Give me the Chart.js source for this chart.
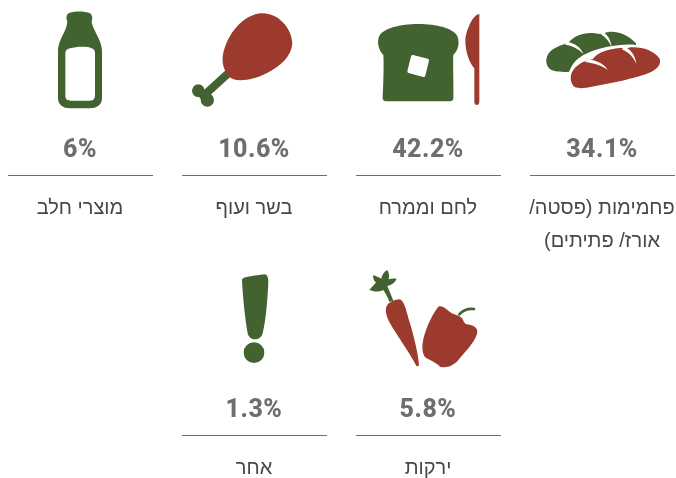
<!DOCTYPE html>
<html lang="he">
<head>
<meta charset="utf-8">
<style>
  html, body { margin: 0; background: #fff; }
  #wrap { width: 676px; height: 478px; }
</style>
<script src="https://cdn.jsdelivr.net/npm/chart.js@4"></script>
</head>
<body>
<div id="wrap"><canvas id="foodChart"></canvas></div>
<script>
const categories = [
  ['פחמימות (פסטה/', 'אורז/ פתיתים)'],
  ['לחם וממרח'],
  ['בשר ועוף'],
  ['מוצרי חלב'],
  ['ירקות'],
  ['אחר'],
];
const values = [34.1, 42.2, 10.6, 6, 5.8, 1.3];
const iconNames = ['bread', 'toast', 'drumstick', 'bottle', 'veg', 'mark'];

const GREEN = '#42632f';
const RED = '#9c3a2e';
const GREY = '#6d6e71';
const COLS = 4;

// icon outlines, traced at 3x; origin is where the icon crop starts relative to its cell centre
const ICONS = {
  bread: { ox: -73, oy: -58, draw(c) {
    fillPath(c, GREEN, 'M60,207 C45,195 45,170 60,155 C75,140 100,133 115,128 C135,105 165,95 195,100 C205,102 215,103 222,100 C245,90 285,95 318,130 L318,135 C280,130 210,140 160,165 C135,180 125,195 118,215 C95,217 70,215 60,207 Z');
    fillPath(c, '#fff', 'M112,126 C135,130 152,142 160,162 C148,148 130,138 105,134 Z');
    fillPath(c, '#fff', 'M218,95 C235,105 243,122 245,142 C238,125 228,112 212,102 Z');
    const red = 'M135,262 C120,250 118,225 130,210 C145,190 165,182 188,178 C200,160 225,150 250,147 C265,142 290,145 295,143 C330,138 370,150 388,175 C395,190 385,205 365,215 C320,235 240,250 170,263 C155,265 145,265 135,262 Z';
    strokePath(c, '#fff', 12, red);
    fillPath(c, RED, red);
    fillPath(c, '#fff', 'M175,178 C205,182 225,195 233,210 C218,198 195,190 165,186 Z');
    fillPath(c, '#fff', 'M285,140 C305,150 317,170 319,192 C310,172 298,158 275,148 Z');
  } },
  toast: { ox: -69, oy: -58, draw(c) {
    fillPath(c, GREEN, 'M70,165 C55,150 50,125 58,108 C70,85 120,72 175,72 C230,72 280,85 292,108 C300,130 295,150 280,165 C278,190 282,270 280,295 C280,302 275,304 270,304 L78,304 C72,304 68,300 68,295 C70,260 72,190 70,165 Z');
    const pat = 'M158,170 L202,181 L191,226 L147,214 Z';
    fillPath(c, '#fff', pat);
    strokePath(c, '#fff', 10, pat);
    fillPath(c, RED, 'M358,42 C340,42 318,90 316,120 C316,160 330,190 343,205 L343,305 C343,318 358,318 358,305 Z');
  } },
  drumstick: { ox: -75, oy: -58, draw(c) {
    strokePath(c, GREEN, 24, 'M145,220 L70,288');
    fillPath(c, GREEN, circle(55, 272, 19));
    fillPath(c, GREEN, circle(82, 300, 20));
    fillPath(c, RED, 'M160,238 C140,230 125,200 128,170 C135,120 175,50 240,40 C290,35 335,80 337,130 C335,170 300,200 260,220 C225,238 185,245 160,238 Z');
  } },
  bottle: { ox: -41, oy: -58, draw(c) {
    fillPath(c, GREEN, 'M85,40 C100,33 135,33 150,40 C158,46 158,55 155,65 C158,90 183,115 186,150 L186,295 C186,315 170,325 150,325 L90,325 C70,325 54,315 54,295 L54,150 C56,115 80,95 82,65 C78,55 78,46 85,40 Z');
    fillPath(c, '#fff', 'M90,145 C110,140 140,138 155,145 C162,147 165,152 165,160 L165,285 C165,298 158,302 150,302 L92,302 C82,302 76,298 76,285 L76,160 C76,152 80,147 90,145 Z');
  } },
  veg: { ox: -69, oy: -58, draw(c) {
    fillPath(c, GREEN, 'M28,90 C38,78 45,70 48,68 C40,60 38,52 40,45 C50,50 58,52 64,56 C66,45 72,35 82,30 C88,40 88,50 86,58 C95,55 102,55 110,56 C105,68 95,75 82,78 L100,122 L88,125 C84,112 76,100 70,90 C55,97 40,95 28,90 Z');
    fillPath(c, RED, 'M78,145 C80,130 100,118 120,118 C135,125 140,160 150,190 C162,230 175,285 177,315 C176,320 170,320 168,316 C150,280 110,225 90,190 C80,172 76,158 78,145 Z');
    strokePath(c, GREEN, 8, 'M298,163 C310,150 325,145 342,147');
    fillPath(c, RED, 'M235,140 C250,135 260,150 275,160 C285,165 295,165 303,172 C312,180 310,190 320,193 C335,195 352,200 352,215 C350,240 320,270 295,300 C280,318 260,325 240,320 C230,310 210,300 200,295 C190,290 185,270 188,250 C192,215 215,165 235,140 Z');
  } },
  mark: { ox: -35, oy: -53, draw(c) {
    fillPath(c, GREEN, 'M72,38 C90,33 120,30 135,28 C142,30 145,38 145,50 C143,100 138,165 128,205 C125,218 115,223 105,223 C92,223 85,215 83,205 C75,160 68,90 66,45 C66,42 68,40 72,38 Z');
    fillPath(c, GREEN, circle(102, 263, 31));
  } },
};

function circle(x, y, r) {
  return `M${x - r},${y} a${r},${r} 0 1,0 ${r * 2},0 a${r},${r} 0 1,0 ${-r * 2},0 Z`;
}
function fillPath(c, color, d) {
  c.fillStyle = color;
  c.fill(new Path2D(d));
}
function strokePath(c, color, width, d) {
  c.strokeStyle = color;
  c.lineWidth = width;
  c.lineJoin = 'round';
  c.lineCap = 'round';
  c.stroke(new Path2D(d));
}

// each icon goes on its own small canvas and is handed to Chart.js as a pointStyle
function makeIcon(name) {
  const cv = document.createElement('canvas');
  cv.width = 170;
  cv.height = 130;
  const c = cv.getContext('2d');
  c.translate(85 + ICONS[name].ox, 65 + ICONS[name].oy);
  c.scale(1 / 3, 1 / 3);
  ICONS[name].draw(c);
  return cv;
}

// value, rule and label under each icon
const captions = {
  id: 'captions',
  afterDatasetsDraw(chart) {
    const ctx = chart.ctx;
    chart.getDatasetMeta(0).data.forEach((pt, i) => {
      const x = pt.x, y = pt.y;
      ctx.save();
      ctx.textAlign = 'center';
      ctx.textBaseline = 'alphabetic';
      ctx.fillStyle = GREY;
      ctx.font = '800 25px Roboto';
      ctx.letterSpacing = '0.5px';
      ctx.fillText(values[i] + '%', x - 1, y + 99);
      ctx.letterSpacing = '0px';

      ctx.strokeStyle = GREY;
      ctx.lineWidth = 1;
      ctx.beginPath();
      ctx.moveTo(x - 73, y + 117.5);
      ctx.lineTo(x + 72, y + 117.5);
      ctx.stroke();

      ctx.fillStyle = '#474747';
      ctx.font = "20px 'Liberation Sans'";
      ctx.direction = 'rtl';
      categories[i].forEach((line, k) => ctx.fillText(line, x - 1, y + 156 + k * 33));
      ctx.restore();
    });
  },
};

// the second row starts one column in from the right
const slotOf = i => (i < COLS ? i : i + 1);

new Chart(document.getElementById('foodChart'), {
  type: 'scatter',
  data: {
    labels: categories.map(c => c.join(' ')),
    datasets: [{
      data: values.map((v, i) => ({ x: COLS - 1 - slotOf(i) % COLS, y: Math.floor(slotOf(i) / COLS) })),
      pointStyle: iconNames.map(makeIcon),
    }],
  },
  options: {
    responsive: true,
    maintainAspectRatio: false,
    animation: false,
    layout: { padding: 0, autoPadding: false },
    plugins: { legend: { display: false }, tooltip: { enabled: false } },
    scales: {
      x: { display: false, min: -81 / 174, max: 595 / 174 },
      y: { display: false, reverse: true, min: -58 / 260, max: 420 / 260 },
    },
  },
  plugins: [captions],
});
</script>
</body>
</html>
